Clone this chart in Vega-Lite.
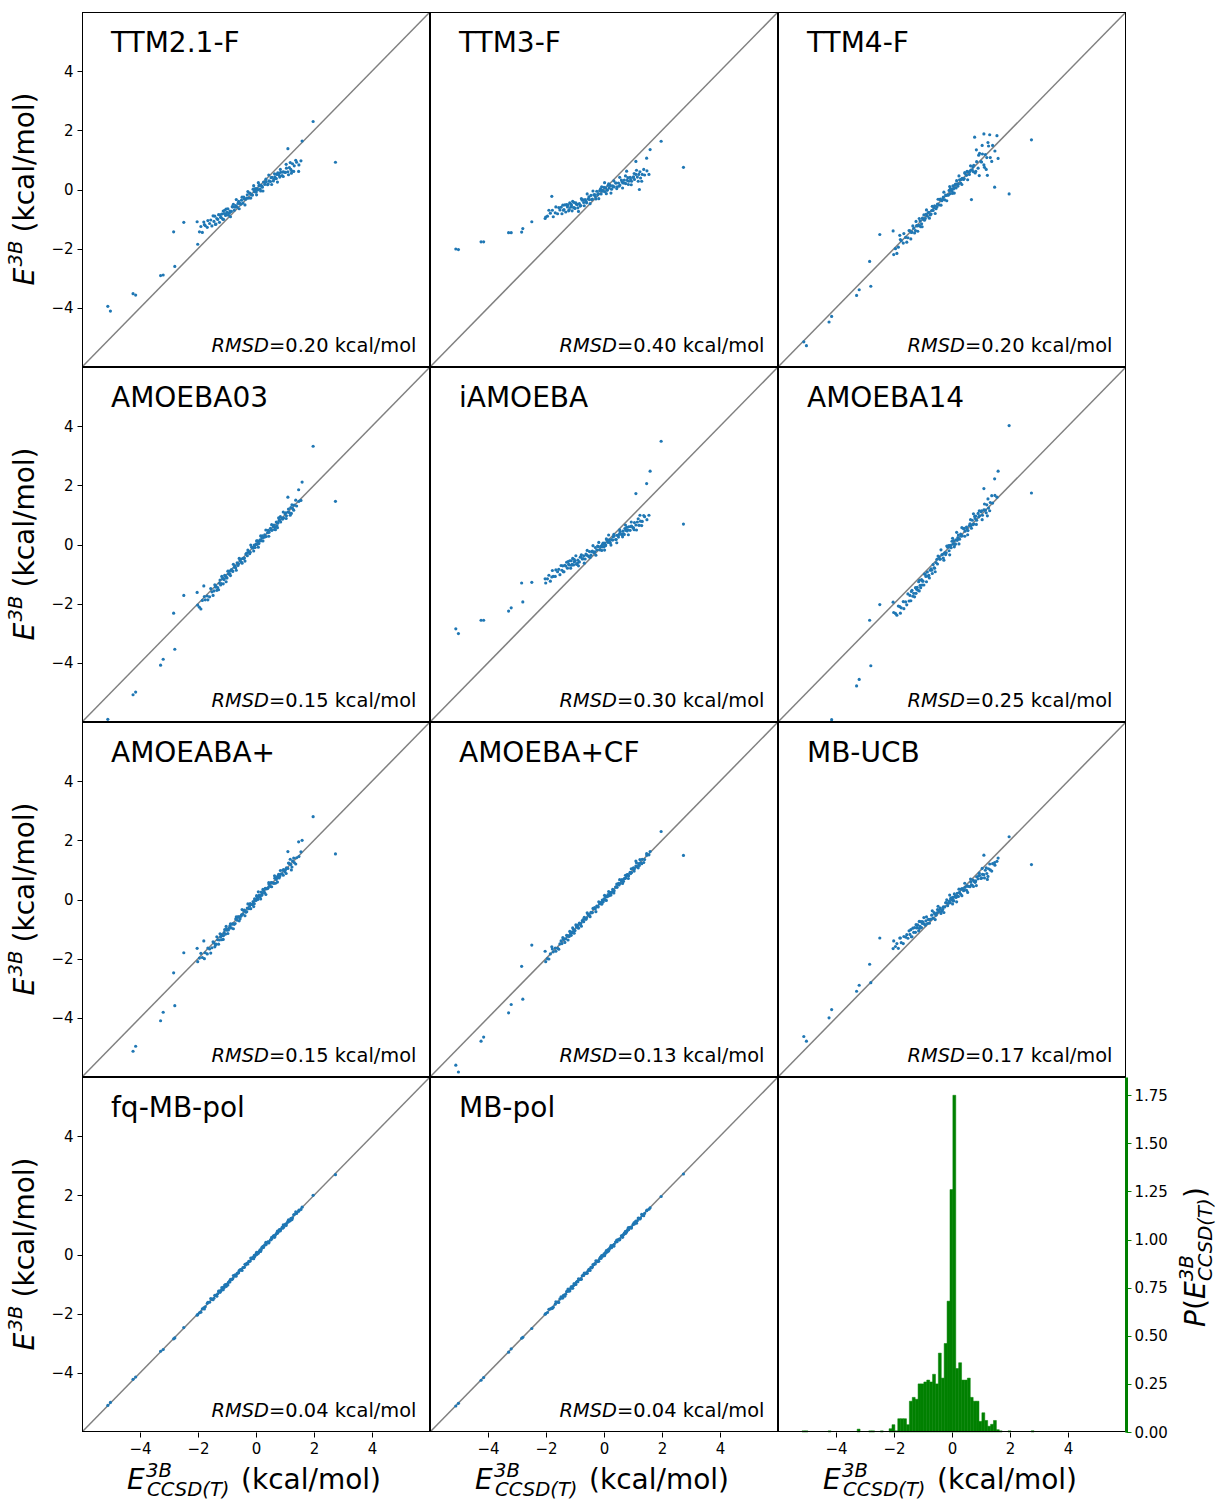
{
"$schema":"https://vega.github.io/schema/vega-lite/v6.json",
"padding":{"left":5,"top":12,"right":2,"bottom":2},
"background":"white",
"config":{"view":{"stroke":null},"concat":{"spacing":0},
"axis":{"grid":false,"domain":false,"tickSize":5,"tickColor":"#000","tickWidth":1,"labelFontSize":15,"labelColor":"#000","labelPadding":4,"labelFont":"DejaVu Sans"},
"text":{"font":"DejaVu Sans","color":"#000","baseline":"alphabetic"}},
"datasets":{
"pts":[
{"x":-1.95,"a":-1.43,"b":-0.9,"c":-2.0,"d":-2.12,"e":-1.16,"f":-2.33,"g":-1.98,"h":-2.0,"i":-1.59,"j":-1.97,"k":-1.96},
{"x":-1.85,"a":-1.45,"b":-0.8,"c":-1.95,"d":-1.89,"e":-1.24,"f":-2.08,"g":-1.96,"h":-1.84,"i":-1.65,"j":-1.84,"k":-1.84},
{"x":-1.75,"a":-1.22,"b":-0.92,"c":-1.73,"d":-1.87,"e":-1.08,"f":-2.14,"g":-1.8,"h":-1.77,"i":-1.46,"j":-1.77,"k":-1.78},
{"x":-1.68,"a":-1.28,"b":-0.79,"c":-1.81,"d":-1.74,"e":-1.08,"f":-1.93,"g":-1.84,"h":-1.64,"i":-1.49,"j":-1.65,"k":-1.68},
{"x":-1.6,"a":-1.15,"b":-0.82,"c":-1.62,"d":-1.77,"e":-0.92,"f":-1.94,"g":-1.67,"h":-1.65,"i":-1.27,"j":-1.61,"k":-1.61},
{"x":-1.52,"a":-1.23,"b":-0.69,"c":-1.63,"d":-1.6,"e":-1.02,"f":-1.67,"g":-1.63,"h":-1.5,"i":-1.31,"j":-1.51,"k":-1.5},
{"x":-1.45,"a":-1.08,"b":-0.82,"c":-1.4,"d":-1.57,"e":-0.87,"f":-1.72,"g":-1.47,"h":-1.49,"i":-1.18,"j":-1.48,"k":-1.47},
{"x":-1.38,"a":-1.17,"b":-0.68,"c":-1.44,"d":-1.41,"e":-0.92,"f":-1.55,"g":-1.51,"h":-1.33,"i":-1.26,"j":-1.38,"k":-1.37},
{"x":-1.32,"a":-1.01,"b":-0.76,"c":-1.31,"d":-1.46,"e":-0.73,"f":-1.65,"g":-1.36,"h":-1.33,"i":-1.11,"j":-1.33,"k":-1.34},
{"x":-1.26,"a":-1.11,"b":-0.59,"c":-1.39,"d":-1.31,"e":-0.8,"f":-1.46,"g":-1.37,"h":-1.23,"i":-1.11,"j":-1.24,"k":-1.23},
{"x":-1.2,"a":-0.95,"b":-0.68,"c":-1.23,"d":-1.32,"e":-0.69,"f":-1.45,"g":-1.19,"h":-1.25,"i":-0.95,"j":-1.22,"k":-1.21},
{"x":-1.15,"a":-1.0,"b":-0.6,"c":-1.22,"d":-1.15,"e":-0.8,"f":-1.26,"g":-1.22,"h":-1.14,"i":-1.06,"j":-1.14,"k":-1.14},
{"x":-1.1,"a":-0.81,"b":-0.72,"c":-1.06,"d":-1.18,"e":-0.67,"f":-1.38,"g":-1.12,"h":-1.12,"i":-0.91,"j":-1.12,"k":-1.13},
{"x":-1.05,"a":-0.88,"b":-0.61,"c":-1.16,"d":-1.07,"e":-0.69,"f":-1.19,"g":-1.17,"h":-1.01,"i":-0.95,"j":-1.02,"k":-1.05},
{"x":-1.0,"a":-0.77,"b":-0.64,"c":-1.0,"d":-1.13,"e":-0.55,"f":-1.24,"g":-1.04,"h":-1.05,"i":-0.76,"j":-1.01,"k":-1.01},
{"x":-0.95,"a":-0.87,"b":-0.5,"c":-1.04,"d":-1.0,"e":-0.67,"f":-1.0,"g":-1.03,"h":-0.93,"i":-0.83,"j":-0.94,"k":-0.93},
{"x":-0.9,"a":-0.73,"b":-0.62,"c":-0.84,"d":-0.99,"e":-0.53,"f":-1.08,"g":-0.89,"h":-0.94,"i":-0.72,"j":-0.93,"k":-0.92},
{"x":-0.85,"a":-0.74,"b":-0.48,"c":-0.9,"d":-0.85,"e":-0.59,"f":-0.93,"g":-0.96,"h":-0.8,"i":-0.81,"j":-0.85,"k":-0.84},
{"x":-0.8,"a":-0.59,"b":-0.54,"c":-0.77,"d":-0.91,"e":-0.41,"f":-1.04,"g":-0.82,"h":-0.81,"i":-0.67,"j":-0.81,"k":-0.82},
{"x":-0.75,"a":-0.7,"b":-0.36,"c":-0.86,"d":-0.77,"e":-0.49,"f":-0.87,"g":-0.84,"h":-0.72,"i":-0.68,"j":-0.73,"k":-0.72},
{"x":-0.7,"a":-0.54,"b":-0.44,"c":-0.71,"d":-0.79,"e":-0.38,"f":-0.87,"g":-0.66,"h":-0.75,"i":-0.53,"j":-0.72,"k":-0.71},
{"x":-0.65,"a":-0.59,"b":-0.34,"c":-0.71,"d":-0.62,"e":-0.49,"f":-0.68,"g":-0.7,"h":-0.64,"i":-0.63,"j":-0.64,"k":-0.64},
{"x":-0.6,"a":-0.4,"b":-0.45,"c":-0.55,"d":-0.65,"e":-0.36,"f":-0.8,"g":-0.59,"h":-0.62,"i":-0.48,"j":-0.62,"k":-0.63},
{"x":-0.55,"a":-0.47,"b":-0.32,"c":-0.65,"d":-0.54,"e":-0.38,"f":-0.61,"g":-0.65,"h":-0.51,"i":-0.53,"j":-0.52,"k":-0.55},
{"x":-0.5,"a":-0.36,"b":-0.34,"c":-0.49,"d":-0.6,"e":-0.24,"f":-0.66,"g":-0.52,"h":-0.55,"i":-0.34,"j":-0.51,"k":-0.51},
{"x":-0.45,"a":-0.46,"b":-0.2,"c":-0.52,"d":-0.47,"e":-0.36,"f":-0.42,"g":-0.5,"h":-0.43,"i":-0.4,"j":-0.44,"k":-0.43},
{"x":-0.4,"a":-0.32,"b":-0.32,"c":-0.32,"d":-0.46,"e":-0.22,"f":-0.49,"g":-0.36,"h":-0.44,"i":-0.29,"j":-0.43,"k":-0.42},
{"x":-0.35,"a":-0.33,"b":-0.18,"c":-0.38,"d":-0.32,"e":-0.28,"f":-0.35,"g":-0.43,"h":-0.3,"i":-0.39,"j":-0.35,"k":-0.34},
{"x":-0.3,"a":-0.18,"b":-0.24,"c":-0.26,"d":-0.38,"e":-0.1,"f":-0.46,"g":-0.29,"h":-0.31,"i":-0.25,"j":-0.31,"k":-0.32},
{"x":-0.25,"a":-0.29,"b":-0.06,"c":-0.35,"d":-0.24,"e":-0.18,"f":-0.28,"g":-0.31,"h":-0.22,"i":-0.25,"j":-0.23,"k":-0.22},
{"x":-0.2,"a":-0.13,"b":-0.14,"c":-0.2,"d":-0.26,"e":-0.07,"f":-0.28,"g":-0.14,"h":-0.25,"i":-0.1,"j":-0.22,"k":-0.21},
{"x":-0.15,"a":-0.18,"b":-0.04,"c":-0.19,"d":-0.09,"e":-0.18,"f":-0.09,"g":-0.17,"h":-0.14,"i":-0.21,"j":-0.14,"k":-0.14},
{"x":-0.1,"a":0.01,"b":-0.15,"c":-0.03,"d":-0.12,"e":-0.05,"f":-0.21,"g":-0.07,"h":-0.12,"i":-0.06,"j":-0.12,"k":-0.13},
{"x":-0.06,"a":-0.07,"b":-0.03,"c":-0.14,"d":-0.02,"e":-0.08,"f":-0.03,"g":-0.14,"h":-0.02,"i":-0.11,"j":-0.03,"k":-0.06},
{"x":-0.03,"a":0.03,"b":-0.06,"c":0.0,"d":-0.1,"e":0.05,"f":-0.11,"g":-0.02,"h":-0.08,"i":0.06,"j":-0.04,"k":-0.04},
{"x":0.0,"a":-0.09,"b":0.07,"c":-0.06,"d":0.01,"e":-0.08,"f":0.11,"g":-0.03,"h":0.02,"i":-0.02,"j":0.02,"k":0.02},
{"x":0.03,"a":0.03,"b":-0.07,"c":0.12,"d":0.0,"e":0.05,"f":0.01,"g":0.09,"h":-0.01,"i":0.07,"j":0.0,"k":0.01},
{"x":0.06,"a":0.0,"b":0.05,"c":0.04,"d":0.11,"e":-0.02,"f":0.12,"g":0.0,"h":0.11,"i":-0.04,"j":0.06,"k":0.07},
{"x":0.1,"a":0.13,"b":-0.02,"c":0.15,"d":0.03,"e":0.15,"f":0.0,"g":0.12,"h":0.09,"i":0.09,"j":0.09,"k":0.08},
{"x":0.14,"a":0.01,"b":0.14,"c":0.05,"d":0.16,"e":0.07,"f":0.16,"g":0.09,"h":0.17,"i":0.07,"j":0.16,"k":0.17},
{"x":0.18,"a":0.14,"b":0.05,"c":0.19,"d":0.13,"e":0.16,"f":0.14,"g":0.25,"h":0.13,"i":0.21,"j":0.16,"k":0.17},
{"x":0.22,"a":0.08,"b":0.13,"c":0.18,"d":0.29,"e":0.05,"f":0.32,"g":0.2,"h":0.23,"i":0.1,"j":0.23,"k":0.24},
{"x":0.26,"a":0.25,"b":0.01,"c":0.33,"d":0.24,"e":0.17,"f":0.18,"g":0.3,"h":0.24,"i":0.24,"j":0.24,"k":0.23},
{"x":0.3,"a":0.17,"b":0.12,"c":0.22,"d":0.33,"e":0.15,"f":0.35,"g":0.23,"h":0.34,"i":0.18,"j":0.33,"k":0.3},
{"x":0.35,"a":0.27,"b":0.09,"c":0.38,"d":0.27,"e":0.29,"f":0.3,"g":0.36,"h":0.3,"i":0.37,"j":0.34,"k":0.34},
{"x":0.4,"a":0.16,"b":0.22,"c":0.34,"d":0.4,"e":0.17,"f":0.53,"g":0.37,"h":0.42,"i":0.3,"j":0.42,"k":0.42},
{"x":0.45,"a":0.29,"b":0.09,"c":0.54,"d":0.41,"e":0.31,"f":0.45,"g":0.51,"h":0.41,"i":0.41,"j":0.42,"k":0.43},
{"x":0.5,"a":0.27,"b":0.22,"c":0.48,"d":0.55,"e":0.25,"f":0.59,"g":0.44,"h":0.55,"i":0.31,"j":0.5,"k":0.51},
{"x":0.55,"a":0.41,"b":0.15,"c":0.6,"d":0.48,"e":0.43,"f":0.47,"g":0.57,"h":0.54,"i":0.45,"j":0.54,"k":0.53},
{"x":0.6,"a":0.29,"b":0.32,"c":0.51,"d":0.61,"e":0.35,"f":0.64,"g":0.55,"h":0.63,"i":0.44,"j":0.62,"k":0.63},
{"x":0.65,"a":0.43,"b":0.23,"c":0.66,"d":0.59,"e":0.45,"f":0.63,"g":0.72,"h":0.6,"i":0.59,"j":0.63,"k":0.64},
{"x":0.7,"a":0.37,"b":0.32,"c":0.66,"d":0.76,"e":0.34,"f":0.82,"g":0.68,"h":0.71,"i":0.48,"j":0.71,"k":0.72},
{"x":0.75,"a":0.56,"b":0.2,"c":0.82,"d":0.72,"e":0.48,"f":0.69,"g":0.79,"h":0.73,"i":0.63,"j":0.73,"k":0.72},
{"x":0.8,"a":0.48,"b":0.31,"c":0.56,"d":0.82,"e":0.46,"f":0.88,"g":0.73,"h":0.84,"i":0.58,"j":0.83,"k":0.8},
{"x":0.85,"a":0.58,"b":0.28,"c":0.94,"d":0.76,"e":0.6,"f":0.82,"g":0.86,"h":0.8,"i":0.77,"j":0.84,"k":0.84},
{"x":0.9,"a":0.47,"b":0.41,"c":0.72,"d":0.89,"e":0.48,"f":1.05,"g":0.87,"h":0.92,"i":0.7,"j":0.92,"k":0.92},
{"x":0.95,"a":0.6,"b":0.28,"c":1.22,"d":0.9,"e":0.62,"f":0.97,"g":1.01,"h":0.91,"i":0.81,"j":0.92,"k":0.93},
{"x":1.0,"a":0.58,"b":0.41,"c":0.94,"d":1.04,"e":0.56,"f":1.11,"g":0.94,"h":1.05,"i":0.71,"j":1.0,"k":1.01},
{"x":1.05,"a":0.72,"b":0.34,"c":1.2,"d":0.97,"e":0.74,"f":0.99,"g":1.07,"h":1.04,"i":0.85,"j":1.04,"k":1.03},
{"x":1.1,"a":0.6,"b":0.51,"c":0.83,"d":1.1,"e":0.66,"f":1.17,"g":1.05,"h":1.13,"i":0.84,"j":1.12,"k":1.13},
{"x":1.15,"a":0.74,"b":0.42,"c":1.18,"d":1.08,"e":0.76,"f":1.16,"g":1.22,"h":1.1,"i":0.99,"j":1.13,"k":1.14},
{"x":1.2,"a":0.68,"b":0.51,"c":1.08,"d":1.25,"e":0.65,"f":1.34,"g":1.18,"h":1.21,"i":0.88,"j":1.21,"k":1.22},
{"x":1.26,"a":0.87,"b":0.39,"c":1.47,"d":1.22,"e":0.79,"f":1.23,"g":1.3,"h":1.24,"i":1.04,"j":1.24,"k":1.23},
{"x":1.32,"a":0.8,"b":0.51,"c":1.08,"d":1.33,"e":0.78,"f":1.42,"g":1.25,"h":1.36,"i":1.0,"j":1.35,"k":1.32},
{"x":1.4,"a":0.92,"b":0.49,"c":1.49,"d":1.3,"e":0.94,"f":1.4,"g":1.41,"h":1.35,"i":1.21,"j":1.39,"k":1.39},
{"x":1.48,"a":0.83,"b":0.63,"c":1.3,"d":1.46,"e":0.84,"f":1.66,"g":1.45,"h":1.5,"i":1.16,"j":1.5,"k":1.5},
{"x":1.55,"a":0.97,"b":0.51,"c":1.82,"d":1.49,"e":0.99,"f":1.6,"g":1.61,"h":1.51,"i":1.29,"j":1.52,"k":1.53},
{"x":-1.4,"a":-1.18,"b":-0.7,"c":-1.45,"d":-1.44,"e":-0.92,"f":-1.59,"g":-1.54,"h":-1.35,"i":-1.26,"j":-1.38,"k":-1.39},
{"x":-1.22,"a":-0.94,"b":-0.72,"c":-1.22,"d":-1.37,"e":-0.67,"f":-1.51,"g":-1.27,"h":-1.23,"i":-0.96,"j":-1.23,"k":-1.24},
{"x":-1.12,"a":-1.01,"b":-0.55,"c":-1.22,"d":-1.17,"e":-0.7,"f":-1.21,"g":-1.22,"h":-1.1,"i":-0.98,"j":-1.1,"k":-1.09},
{"x":-1.02,"a":-0.82,"b":-0.62,"c":-0.97,"d":-1.12,"e":-0.59,"f":-1.23,"g":-1.0,"h":-1.06,"i":-0.81,"j":-1.05,"k":-1.02},
{"x":-0.92,"a":-0.8,"b":-0.51,"c":-0.98,"d":-0.9,"e":-0.64,"f":-1.0,"g":-0.97,"h":-0.87,"i":-0.87,"j":-0.91,"k":-0.91},
{"x":-0.82,"a":-0.58,"b":-0.56,"c":-0.78,"d":-0.88,"e":-0.43,"f":-1.07,"g":-0.83,"h":-0.84,"i":-0.68,"j":-0.84,"k":-0.84},
{"x":-0.72,"a":-0.6,"b":-0.35,"c":-0.83,"d":-0.73,"e":-0.48,"f":-0.82,"g":-0.81,"h":-0.68,"i":-0.66,"j":-0.69,"k":-0.7},
{"x":-0.62,"a":-0.47,"b":-0.4,"c":-0.62,"d":-0.71,"e":-0.32,"f":-0.79,"g":-0.59,"h":-0.67,"i":-0.44,"j":-0.62,"k":-0.63},
{"x":-0.52,"a":-0.5,"b":-0.25,"c":-0.59,"d":-0.49,"e":-0.41,"f":-0.5,"g":-0.57,"h":-0.51,"i":-0.45,"j":-0.51,"k":-0.5},
{"x":-0.42,"a":-0.26,"b":-0.34,"c":-0.34,"d":-0.47,"e":-0.24,"f":-0.5,"g":-0.39,"h":-0.45,"i":-0.32,"j":-0.44,"k":-0.45},
{"x":-0.32,"a":-0.29,"b":-0.17,"c":-0.34,"d":-0.29,"e":-0.25,"f":-0.33,"g":-0.41,"h":-0.27,"i":-0.34,"j":-0.3,"k":-0.31},
{"x":-0.22,"a":-0.12,"b":-0.18,"c":-0.19,"d":-0.31,"e":-0.05,"f":-0.34,"g":-0.22,"h":-0.23,"i":-0.11,"j":-0.23,"k":-0.24},
{"x":-0.12,"a":-0.19,"b":0.02,"c":-0.19,"d":-0.11,"e":-0.08,"f":-0.04,"g":-0.17,"h":-0.1,"i":-0.13,"j":-0.1,"k":-0.09},
{"x":-0.05,"a":-0.02,"b":-0.04,"c":0.03,"d":-0.09,"e":0.01,"f":-0.09,"g":0.02,"h":-0.09,"i":0.02,"j":-0.08,"k":-0.05},
{"x":0.05,"a":-0.02,"b":0.06,"c":0.02,"d":0.12,"e":-0.04,"f":0.12,"g":0.04,"h":0.1,"i":-0.05,"j":0.06,"k":0.06},
{"x":0.12,"a":0.16,"b":-0.02,"c":0.18,"d":0.11,"e":0.15,"f":0.02,"g":0.15,"h":0.1,"i":0.12,"j":0.11,"k":0.1},
{"x":0.2,"a":0.11,"b":0.16,"c":0.11,"d":0.23,"e":0.09,"f":0.23,"g":0.14,"h":0.24,"i":0.11,"j":0.23,"k":0.22},
{"x":0.32,"a":0.24,"b":0.09,"c":0.34,"d":0.26,"e":0.26,"f":0.28,"g":0.38,"h":0.27,"i":0.35,"j":0.32,"k":0.31},
{"x":0.42,"a":0.19,"b":0.22,"c":0.37,"d":0.48,"e":0.17,"f":0.55,"g":0.4,"h":0.43,"i":0.33,"j":0.43,"k":0.44},
{"x":0.52,"a":0.4,"b":0.11,"c":0.61,"d":0.49,"e":0.34,"f":0.53,"g":0.57,"h":0.49,"i":0.46,"j":0.5,"k":0.49},
{"x":0.62,"a":0.35,"b":0.26,"c":0.61,"d":0.66,"e":0.33,"f":0.7,"g":0.55,"h":0.67,"i":0.43,"j":0.64,"k":0.63},
{"x":0.72,"a":0.51,"b":0.22,"c":0.76,"d":0.63,"e":0.54,"f":0.67,"g":0.74,"h":0.71,"i":0.66,"j":0.71,"k":0.7},
{"x":0.82,"a":0.42,"b":0.4,"c":0.61,"d":0.82,"e":0.5,"f":0.96,"g":0.78,"h":0.84,"i":0.63,"j":0.84,"k":0.85},
{"x":0.92,"a":0.59,"b":0.34,"c":1.16,"d":0.86,"e":0.61,"f":0.93,"g":0.99,"h":0.88,"i":0.8,"j":0.89,"k":0.92},
{"x":1.02,"a":0.58,"b":0.43,"c":0.93,"d":1.07,"e":0.56,"f":1.14,"g":1.01,"h":1.07,"i":0.73,"j":1.03,"k":1.03},
{"x":-1.9,"a":-1.25,"b":-0.7,"c":-2.16,"d":-2.18,"e":-1.04,"f":-2.39,"g":-1.82,"h":-2.01,"i":-1.49,"j":-1.95,"k":-1.85},
{"x":-1.78,"a":-1.19,"b":-0.7,"c":-1.69,"d":-1.76,"e":-0.88,"f":-2.32,"g":-2.0,"h":-1.67,"i":-1.3,"j":-1.84,"k":-1.82},
{"x":-1.66,"a":-1.05,"b":-0.59,"c":-1.49,"d":-1.87,"e":-0.86,"f":-2.17,"g":-1.64,"h":-1.75,"i":-1.25,"j":-1.62,"k":-1.6},
{"x":-1.56,"a":-1.03,"b":-0.61,"c":-1.78,"d":-1.49,"e":-0.84,"f":-2.04,"g":-1.81,"h":-1.68,"i":-1.19,"j":-1.49,"k":-1.62},
{"x":-1.48,"a":-0.89,"b":-0.6,"c":-1.39,"d":-1.72,"e":-0.71,"f":-1.91,"g":-1.43,"h":-1.4,"i":-1.06,"j":-1.53,"k":-1.43},
{"x":-1.42,"a":-0.9,"b":-0.53,"c":-1.67,"d":-1.36,"e":-0.72,"f":-1.9,"g":-1.6,"h":-1.29,"i":-1.02,"j":-1.38,"k":-1.47},
{"x":-1.35,"a":-0.98,"b":-0.52,"c":-1.23,"d":-1.55,"e":-0.7,"f":-1.75,"g":-1.26,"h":-1.45,"i":-0.97,"j":-1.41,"k":-1.41},
{"x":-1.29,"a":-0.85,"b":-0.51,"c":-1.47,"d":-1.53,"e":-0.6,"f":-1.77,"g":-1.51,"h":-1.21,"i":-0.95,"j":-1.24,"k":-1.25},
{"x":-1.24,"a":-0.86,"b":-0.52,"c":-1.08,"d":-1.2,"e":-0.58,"f":-1.65,"g":-1.16,"h":-1.37,"i":-0.85,"j":-1.28,"k":-1.17},
{"x":-1.18,"a":-0.83,"b":-0.45,"c":-1.41,"d":-1.08,"e":-0.55,"f":-1.54,"g":-1.36,"h":-1.08,"i":-0.86,"j":-1.12,"k":-1.23},
{"x":-1.13,"a":-0.73,"b":-0.5,"c":-0.98,"d":-1.33,"e":-0.55,"f":-1.57,"g":-1.35,"h":-1.21,"i":-0.74,"j":-1.19,"k":-1.09},
{"x":-1.08,"a":-0.7,"b":-0.4,"c":-1.26,"d":-1.04,"e":-0.47,"f":-1.46,"g":-1.02,"h":-0.96,"i":-0.75,"j":-1.03,"k":-1.14},
{"x":-1.03,"a":-0.66,"b":-0.44,"c":-1.26,"d":-1.26,"e":-0.5,"f":-1.37,"g":-0.91,"h":-1.14,"i":-0.75,"j":-1.08,"k":-0.98},
{"x":-0.97,"a":-0.65,"b":-0.45,"c":-0.86,"d":-0.9,"e":-0.38,"f":-1.37,"g":-1.15,"h":-0.86,"i":-0.61,"j":-1.03,"k":-1.01},
{"x":-0.88,"a":-0.92,"b":-0.74,"c":-0.69,"d":-1.05,"e":-0.72,"f":-1.26,"g":-0.82,"h":-0.97,"i":-0.59,"j":-0.84,"k":-0.82},
{"x":-0.78,"a":-0.5,"b":-0.31,"c":-0.97,"d":-0.67,"e":-0.35,"f":-1.13,"g":-0.99,"h":-0.9,"i":-0.8,"j":-0.71,"k":-0.84},
{"x":-0.68,"a":-0.34,"b":-0.55,"c":-0.57,"d":-0.87,"e":-0.63,"f":-0.98,"g":-0.59,"h":-0.6,"i":-0.38,"j":-0.73,"k":-0.63},
{"x":-0.58,"a":-0.65,"b":-0.15,"c":-0.81,"d":-0.47,"e":-0.2,"f":-0.92,"g":-0.72,"h":-0.45,"i":-0.68,"j":-0.54,"k":-0.63},
{"x":-0.48,"a":-0.26,"b":-0.48,"c":-0.33,"d":-0.63,"e":-0.44,"f":-0.39,"g":-0.34,"h":-0.58,"i":-0.23,"j":-0.54,"k":-0.54},
{"x":-0.38,"a":-0.52,"b":-0.05,"c":-0.53,"d":-0.56,"e":-0.04,"f":-0.18,"g":-0.55,"h":-0.3,"i":-0.47,"j":-0.33,"k":-0.34},
{"x":-0.28,"a":-0.07,"b":-0.32,"c":-0.09,"d":-0.19,"e":-0.36,"f":-0.53,"g":-0.15,"h":-0.41,"i":-0.44,"j":-0.32,"k":-0.21},
{"x":-0.18,"a":-0.29,"b":-0.31,"c":-0.38,"d":-0.02,"e":0.07,"f":-0.05,"g":-0.31,"h":-0.08,"i":-0.01,"j":-0.12,"k":-0.23},
{"x":-0.08,"a":0.13,"b":0.09,"c":0.1,"d":-0.22,"e":-0.2,"f":-0.35,"g":-0.24,"h":-0.16,"i":0.15,"j":-0.14,"k":-0.04},
{"x":0.02,"a":-0.18,"b":0.23,"c":-0.13,"d":0.12,"e":-0.19,"f":0.21,"g":0.13,"h":0.14,"i":-0.15,"j":0.07,"k":-0.04},
{"x":0.08,"a":0.23,"b":-0.14,"c":-0.12,"d":-0.09,"e":0.19,"f":-0.08,"g":0.26,"h":-0.03,"i":0.19,"j":0.04,"k":0.13},
{"x":0.16,"a":-0.05,"b":0.19,"c":0.3,"d":0.29,"e":0.32,"f":0.41,"g":0.02,"h":0.27,"i":-0.08,"j":0.1,"k":0.12},
{"x":0.24,"a":-0.05,"b":-0.12,"c":0.46,"d":0.12,"e":-0.02,"f":0.02,"g":0.34,"h":0.15,"i":0.35,"j":0.28,"k":0.3},
{"x":0.34,"a":0.35,"b":0.29,"c":0.17,"d":0.49,"e":0.34,"f":0.57,"g":0.17,"h":0.22,"i":0.13,"j":0.41,"k":0.28},
{"x":0.44,"a":0.49,"b":0.03,"c":0.57,"d":0.28,"e":0.06,"f":0.28,"g":0.57,"h":0.52,"i":0.55,"j":0.39,"k":0.49},
{"x":0.54,"a":0.17,"b":0.41,"c":0.33,"d":0.67,"e":0.5,"f":0.33,"g":0.43,"h":0.67,"i":0.24,"j":0.58,"k":0.5},
{"x":0.64,"a":0.53,"b":0.05,"c":0.8,"d":0.51,"e":0.26,"f":0.84,"g":0.8,"h":0.54,"i":0.69,"j":0.58,"k":0.58},
{"x":0.74,"a":0.25,"b":0.46,"c":0.6,"d":0.57,"e":0.66,"f":1.04,"g":0.59,"h":0.82,"i":0.44,"j":0.79,"k":0.78},
{"x":0.84,"a":0.68,"b":0.17,"c":1.34,"d":0.94,"e":0.33,"f":0.68,"g":0.98,"h":0.71,"i":0.47,"j":0.8,"k":0.91},
{"x":0.94,"a":0.44,"b":0.16,"c":0.47,"d":1.1,"e":0.76,"f":1.14,"g":0.82,"h":1.04,"i":0.89,"j":1.0,"k":0.89},
{"x":1.04,"a":0.85,"b":0.54,"c":1.49,"d":0.88,"e":0.5,"f":0.84,"g":0.88,"h":0.96,"i":1.05,"j":0.98,"k":1.08},
{"x":1.12,"a":0.5,"b":0.65,"c":0.75,"d":1.2,"e":0.49,"f":1.37,"g":1.23,"h":1.24,"i":0.73,"j":1.17,"k":1.06},
{"x":1.18,"a":0.91,"b":0.28,"c":0.68,"d":0.99,"e":0.87,"f":1.07,"g":1.36,"h":1.07,"i":1.07,"j":1.14,"k":1.23},
{"x":1.24,"a":0.62,"b":0.6,"c":1.59,"d":1.34,"e":0.99,"f":1.54,"g":1.1,"h":1.35,"i":0.78,"j":1.18,"k":1.2},
{"x":1.3,"a":0.61,"b":0.28,"c":1.85,"d":1.16,"e":0.64,"f":1.14,"g":1.4,"h":1.21,"i":1.2,"j":1.34,"k":1.36},
{"x":1.37,"a":0.99,"b":0.68,"c":0.95,"d":1.5,"e":0.98,"f":1.65,"g":1.2,"h":1.25,"i":0.96,"j":1.44,"k":1.31},
{"x":-5.11,"a":-3.95,"b":-2.01,"c":-5.15,"d":-5.91,"e":-2.85,"f":-6.5,"g":-6.3,"h":-5.6,"i":-4.63,"j":-5.1,"k":-5.12},
{"x":-5.02,"a":-4.11,"b":-2.03,"c":-5.28,"d":-6.2,"e":-3.01,"f":-6.6,"g":-6.4,"h":-5.83,"i":-4.79,"j":-5.0,"k":-5.03},
{"x":-4.24,"a":-3.52,"b":-1.77,"c":-4.48,"d":-5.08,"e":-2.56,"f":-6.1,"g":-5.13,"h":-4.79,"i":-4.0,"j":-4.22,"k":-4.25},
{"x":-4.15,"a":-3.57,"b":-1.77,"c":-4.29,"d":-4.99,"e":-2.56,"f":-5.92,"g":-4.96,"h":-4.65,"i":-3.72,"j":-4.14,"k":-4.16},
{"x":-3.29,"a":-2.91,"b":-1.46,"c":-3.58,"d":-4.08,"e":-2.25,"f":-4.78,"g":-4.1,"h":-3.83,"i":-3.1,"j":-3.27,"k":-3.3},
{"x":-3.2,"a":-2.89,"b":-1.46,"c":-3.39,"d":-3.88,"e":-2.14,"f":-4.56,"g":-3.81,"h":-3.55,"i":-2.9,"j":-3.21,"k":-3.19},
{"x":-2.8,"a":-2.6,"b":-1.32,"c":-3.27,"d":-3.54,"e":-1.94,"f":-4.1,"g":-3.59,"h":-3.37,"i":-2.81,"j":-2.82,"k":-2.8},
{"x":-2.84,"a":-1.43,"b":-1.44,"c":-2.43,"d":-2.32,"e":-1.3,"f":-2.56,"g":-2.48,"h":-2.26,"i":-2.19,"j":-2.85,"k":-2.83},
{"x":-2.49,"a":-1.11,"b":-1.09,"c":-1.52,"d":-1.72,"e":-1.28,"f":-2.03,"g":-1.8,"h":-1.54,"i":-1.3,"j":-2.47,"k":-2.5},
{"x":-2.03,"a":-1.09,"b":-0.98,"c":-1.4,"d":-1.62,"e":-1.16,"f":-1.95,"g":-1.65,"h":-1.75,"i":-1.66,"j":-2.05,"k":-2.02},
{"x":-2.01,"a":-1.85,"b":-0.93,"c":-2.2,"d":-2.05,"e":-1.3,"f":-2.3,"g":-2.1,"h":-2.1,"i":-1.4,"j":-2.03,"k":-2.0},
{"x":1.97,"a":2.3,"b":1.63,"c":-0.15,"d":3.32,"e":3.49,"f":4.02,"g":2.8,"h":2.3,"i":2.12,"j":2.0,"k":1.96},
{"x":2.74,"a":0.92,"b":0.75,"c":1.68,"d":1.46,"e":0.69,"f":1.74,"g":1.54,"h":1.49,"i":1.18,"j":2.7,"k":2.72},
{"x":1.59,"a":1.64,"b":1.35,"c":1.05,"d":2.11,"e":2.48,"f":2.48,"g":2.0,"h":1.62,"i":1.4,"j":1.6,"k":1.58},
{"x":1.47,"a":0.61,"b":1.06,"c":0.08,"d":1.85,"e":2.06,"f":2.22,"g":1.95,"h":1.55,"i":1.25,"j":1.46,"k":1.48},
{"x":1.1,"a":1.38,"b":0.95,"c":1.88,"d":1.6,"e":1.72,"f":1.89,"g":1.62,"h":1.3,"i":1.5,"j":1.09,"k":1.11},
{"x":0.78,"a":0.55,"b":0.62,"c":1.77,"d":0.9,"e":0.58,"f":0.95,"g":0.85,"h":0.8,"i":0.6,"j":0.78,"k":0.77},
{"x":0.67,"a":0.38,"b":0.22,"c":-0.34,"d":0.5,"e":0.36,"f":0.55,"g":0.55,"h":0.62,"i":0.5,"j":0.66,"k":0.67},
{"x":1.22,"a":0.55,"b":0.0,"c":0.48,"d":1.05,"e":0.65,"f":0.97,"g":1.0,"h":1.15,"i":0.68,"j":1.22,"k":1.21},
{"x":-1.8,"a":-1.1,"b":-0.23,"c":-1.55,"d":-1.4,"e":-1.1,"f":-2.1,"g":-1.4,"h":-1.6,"i":-1.3,"j":-1.8,"k":-1.81}
],
"hist":[
{"x0":-5.17,"x1":-5.07,"p":0.006},{"x0":-5.07,"x1":-4.97,"p":0.006},{"x0":-4.27,"x1":-4.17,"p":0.006},{"x0":-3.27,"x1":-3.17,"p":0.015},
{"x0":-2.87,"x1":-2.77,"p":0.006},{"x0":-2.77,"x1":-2.67,"p":0.006},{"x0":-2.47,"x1":-2.37,"p":0.006},{"x0":-2.17,"x1":-2.07,"p":0.017},
{"x0":-2.07,"x1":-1.97,"p":0.038},{"x0":-1.97,"x1":-1.87,"p":0.006},{"x0":-1.87,"x1":-1.77,"p":0.069},{"x0":-1.77,"x1":-1.67,"p":0.069},
{"x0":-1.67,"x1":-1.57,"p":0.069},{"x0":-1.57,"x1":-1.47,"p":0.038},{"x0":-1.47,"x1":-1.37,"p":0.16},{"x0":-1.37,"x1":-1.27,"p":0.18},
{"x0":-1.27,"x1":-1.17,"p":0.17},{"x0":-1.17,"x1":-1.07,"p":0.25},{"x0":-1.07,"x1":-0.97,"p":0.25},{"x0":-0.97,"x1":-0.87,"p":0.26},
{"x0":-0.87,"x1":-0.77,"p":0.27},{"x0":-0.77,"x1":-0.67,"p":0.26},{"x0":-0.67,"x1":-0.57,"p":0.3},{"x0":-0.57,"x1":-0.47,"p":0.25},
{"x0":-0.47,"x1":-0.37,"p":0.41},{"x0":-0.37,"x1":-0.27,"p":0.28},{"x0":-0.27,"x1":-0.17,"p":0.46},{"x0":-0.17,"x1":-0.07,"p":0.68},
{"x0":-0.07,"x1":0.03,"p":1.26},{"x0":0.03,"x1":0.13,"p":1.75},{"x0":0.13,"x1":0.23,"p":0.33},{"x0":0.23,"x1":0.33,"p":0.36},
{"x0":0.33,"x1":0.43,"p":0.27},{"x0":0.43,"x1":0.53,"p":0.27},{"x0":0.53,"x1":0.63,"p":0.28},{"x0":0.63,"x1":0.73,"p":0.18},
{"x0":0.73,"x1":0.83,"p":0.16},{"x0":0.83,"x1":0.93,"p":0.16},{"x0":0.93,"x1":1.03,"p":0.055},{"x0":1.03,"x1":1.13,"p":0.1},
{"x0":1.13,"x1":1.23,"p":0.06},{"x0":1.23,"x1":1.33,"p":0.03},{"x0":1.33,"x1":1.43,"p":0.04},{"x0":1.43,"x1":1.53,"p":0.06},
{"x0":1.53,"x1":1.63,"p":0.012},{"x0":1.63,"x1":1.73,"p":0.006},{"x0":1.93,"x1":2.03,"p":0.006},{"x0":2.73,"x1":2.83,"p":0.006}
]},
"spacing":0,
"vconcat":[
{"spacing":0,"hconcat":[
{"width":348,"height":355,"layer":[
{"data":{"values":[{}]},"mark":{"type":"rule","color":"#808080","strokeWidth":1.5,"clip":true},"encoding":{"x":{"datum":-6,"type":"quantitative","scale":{"domain":[-6,6],"nice":false,"zero":false},"axis":null},"y":{"datum":-6,"type":"quantitative","scale":{"domain":[-6,6],"nice":false,"zero":false},"axis":{"values":[-4,-2,0,2,4],"title":null}},"x2":{"datum":6},"y2":{"datum":6}}},
{"data":{"name":"pts"},"mark":{"type":"circle","size":10,"color":"#1f77b4","opacity":1,"clip":true},"encoding":{"x":{"field":"x","type":"quantitative","scale":{"domain":[-6,6],"nice":false,"zero":false},"axis":null},"y":{"field":"a","type":"quantitative","scale":{"domain":[-6,6],"nice":false,"zero":false},"axis":{"values":[-4,-2,0,2,4],"title":null}}}},
{"data":{"values":[{}]},"mark":{"type":"text","text":"TTM2.1-F","align":"left","fontSize":28},"encoding":{"x":{"datum":-5,"type":"quantitative","scale":{"domain":[-6,6],"nice":false,"zero":false},"axis":null},"y":{"datum":4.65,"type":"quantitative","scale":{"domain":[-6,6],"nice":false,"zero":false},"axis":{"values":[-4,-2,0,2,4],"title":null}}}},
{"data":{"values":[{}]},"mark":{"type":"text","text":"RMSD","align":"right","fontSize":19.4,"fontStyle":"italic"},"encoding":{"x":{"datum":0.45,"type":"quantitative","scale":{"domain":[-6,6],"nice":false,"zero":false},"axis":null},"y":{"datum":-5.49,"type":"quantitative","scale":{"domain":[-6,6],"nice":false,"zero":false},"axis":{"values":[-4,-2,0,2,4],"title":null}}}},
{"data":{"values":[{}]},"mark":{"type":"text","text":"=0.20 kcal/mol","align":"left","fontSize":19.4},"encoding":{"x":{"datum":0.45,"type":"quantitative","scale":{"domain":[-6,6],"nice":false,"zero":false},"axis":null},"y":{"datum":-5.49,"type":"quantitative","scale":{"domain":[-6,6],"nice":false,"zero":false},"axis":{"values":[-4,-2,0,2,4],"title":null}}}},
{"data":{"values":[{}]},"mark":{"type":"text","text":"E","align":"left","fontSize":28,"fontStyle":"italic","angle":270,"dx":-96},"encoding":{"x":{"datum":-7.66,"type":"quantitative","scale":{"domain":[-6,6],"nice":false,"zero":false},"axis":null},"y":{"datum":0,"type":"quantitative","scale":{"domain":[-6,6],"nice":false,"zero":false},"axis":{"values":[-4,-2,0,2,4],"title":null}}}},
{"data":{"values":[{}]},"mark":{"type":"text","text":"3B","align":"left","fontSize":19.6,"fontStyle":"italic","angle":270,"dx":-77,"dy":-12},"encoding":{"x":{"datum":-7.66,"type":"quantitative","scale":{"domain":[-6,6],"nice":false,"zero":false},"axis":null},"y":{"datum":0,"type":"quantitative","scale":{"domain":[-6,6],"nice":false,"zero":false},"axis":{"values":[-4,-2,0,2,4],"title":null}}}},
{"data":{"values":[{}]},"mark":{"type":"text","text":"(kcal/mol)","align":"left","fontSize":28,"angle":270,"dx":-43},"encoding":{"x":{"datum":-7.66,"type":"quantitative","scale":{"domain":[-6,6],"nice":false,"zero":false},"axis":null},"y":{"datum":0,"type":"quantitative","scale":{"domain":[-6,6],"nice":false,"zero":false},"axis":{"values":[-4,-2,0,2,4],"title":null}}}},
{"data":{"values":[{}]},"mark":{"type":"rect","fillOpacity":0,"stroke":"#000","strokeWidth":2,"clip":true},"encoding":{"x":{"datum":-6,"type":"quantitative","scale":{"domain":[-6,6],"nice":false,"zero":false},"axis":null},"x2":{"datum":6},"y":{"datum":-6,"type":"quantitative","scale":{"domain":[-6,6],"nice":false,"zero":false},"axis":{"values":[-4,-2,0,2,4],"title":null}},"y2":{"datum":6}}}
]},
{"width":348,"height":355,"layer":[
{"data":{"values":[{}]},"mark":{"type":"rule","color":"#808080","strokeWidth":1.5,"clip":true},"encoding":{"x":{"datum":-6,"type":"quantitative","scale":{"domain":[-6,6],"nice":false,"zero":false},"axis":null},"y":{"datum":-6,"type":"quantitative","scale":{"domain":[-6,6],"nice":false,"zero":false},"axis":null},"x2":{"datum":6},"y2":{"datum":6}}},
{"data":{"name":"pts"},"mark":{"type":"circle","size":10,"color":"#1f77b4","opacity":1,"clip":true},"encoding":{"x":{"field":"x","type":"quantitative","scale":{"domain":[-6,6],"nice":false,"zero":false},"axis":null},"y":{"field":"b","type":"quantitative","scale":{"domain":[-6,6],"nice":false,"zero":false},"axis":null}}},
{"data":{"values":[{}]},"mark":{"type":"text","text":"TTM3-F","align":"left","fontSize":28},"encoding":{"x":{"datum":-5,"type":"quantitative","scale":{"domain":[-6,6],"nice":false,"zero":false},"axis":null},"y":{"datum":4.65,"type":"quantitative","scale":{"domain":[-6,6],"nice":false,"zero":false},"axis":null}}},
{"data":{"values":[{}]},"mark":{"type":"text","text":"RMSD","align":"right","fontSize":19.4,"fontStyle":"italic"},"encoding":{"x":{"datum":0.45,"type":"quantitative","scale":{"domain":[-6,6],"nice":false,"zero":false},"axis":null},"y":{"datum":-5.49,"type":"quantitative","scale":{"domain":[-6,6],"nice":false,"zero":false},"axis":null}}},
{"data":{"values":[{}]},"mark":{"type":"text","text":"=0.40 kcal/mol","align":"left","fontSize":19.4},"encoding":{"x":{"datum":0.45,"type":"quantitative","scale":{"domain":[-6,6],"nice":false,"zero":false},"axis":null},"y":{"datum":-5.49,"type":"quantitative","scale":{"domain":[-6,6],"nice":false,"zero":false},"axis":null}}},
{"data":{"values":[{}]},"mark":{"type":"rect","fillOpacity":0,"stroke":"#000","strokeWidth":2,"clip":true},"encoding":{"x":{"datum":-6,"type":"quantitative","scale":{"domain":[-6,6],"nice":false,"zero":false},"axis":null},"x2":{"datum":6},"y":{"datum":-6,"type":"quantitative","scale":{"domain":[-6,6],"nice":false,"zero":false},"axis":null},"y2":{"datum":6}}}
]},
{"width":348,"height":355,"layer":[
{"data":{"values":[{}]},"mark":{"type":"rule","color":"#808080","strokeWidth":1.5,"clip":true},"encoding":{"x":{"datum":-6,"type":"quantitative","scale":{"domain":[-6,6],"nice":false,"zero":false},"axis":null},"y":{"datum":-6,"type":"quantitative","scale":{"domain":[-6,6],"nice":false,"zero":false},"axis":null},"x2":{"datum":6},"y2":{"datum":6}}},
{"data":{"name":"pts"},"mark":{"type":"circle","size":10,"color":"#1f77b4","opacity":1,"clip":true},"encoding":{"x":{"field":"x","type":"quantitative","scale":{"domain":[-6,6],"nice":false,"zero":false},"axis":null},"y":{"field":"c","type":"quantitative","scale":{"domain":[-6,6],"nice":false,"zero":false},"axis":null}}},
{"data":{"values":[{}]},"mark":{"type":"text","text":"TTM4-F","align":"left","fontSize":28},"encoding":{"x":{"datum":-5,"type":"quantitative","scale":{"domain":[-6,6],"nice":false,"zero":false},"axis":null},"y":{"datum":4.65,"type":"quantitative","scale":{"domain":[-6,6],"nice":false,"zero":false},"axis":null}}},
{"data":{"values":[{}]},"mark":{"type":"text","text":"RMSD","align":"right","fontSize":19.4,"fontStyle":"italic"},"encoding":{"x":{"datum":0.45,"type":"quantitative","scale":{"domain":[-6,6],"nice":false,"zero":false},"axis":null},"y":{"datum":-5.49,"type":"quantitative","scale":{"domain":[-6,6],"nice":false,"zero":false},"axis":null}}},
{"data":{"values":[{}]},"mark":{"type":"text","text":"=0.20 kcal/mol","align":"left","fontSize":19.4},"encoding":{"x":{"datum":0.45,"type":"quantitative","scale":{"domain":[-6,6],"nice":false,"zero":false},"axis":null},"y":{"datum":-5.49,"type":"quantitative","scale":{"domain":[-6,6],"nice":false,"zero":false},"axis":null}}},
{"data":{"values":[{}]},"mark":{"type":"rect","fillOpacity":0,"stroke":"#000","strokeWidth":2,"clip":true},"encoding":{"x":{"datum":-6,"type":"quantitative","scale":{"domain":[-6,6],"nice":false,"zero":false},"axis":null},"x2":{"datum":6},"y":{"datum":-6,"type":"quantitative","scale":{"domain":[-6,6],"nice":false,"zero":false},"axis":null},"y2":{"datum":6}}}
]}
]},
{"spacing":0,"hconcat":[
{"width":348,"height":355,"layer":[
{"data":{"values":[{}]},"mark":{"type":"rule","color":"#808080","strokeWidth":1.5,"clip":true},"encoding":{"x":{"datum":-6,"type":"quantitative","scale":{"domain":[-6,6],"nice":false,"zero":false},"axis":null},"y":{"datum":-6,"type":"quantitative","scale":{"domain":[-6,6],"nice":false,"zero":false},"axis":{"values":[-4,-2,0,2,4],"title":null}},"x2":{"datum":6},"y2":{"datum":6}}},
{"data":{"name":"pts"},"mark":{"type":"circle","size":10,"color":"#1f77b4","opacity":1,"clip":true},"encoding":{"x":{"field":"x","type":"quantitative","scale":{"domain":[-6,6],"nice":false,"zero":false},"axis":null},"y":{"field":"d","type":"quantitative","scale":{"domain":[-6,6],"nice":false,"zero":false},"axis":{"values":[-4,-2,0,2,4],"title":null}}}},
{"data":{"values":[{}]},"mark":{"type":"text","text":"AMOEBA03","align":"left","fontSize":28},"encoding":{"x":{"datum":-5,"type":"quantitative","scale":{"domain":[-6,6],"nice":false,"zero":false},"axis":null},"y":{"datum":4.65,"type":"quantitative","scale":{"domain":[-6,6],"nice":false,"zero":false},"axis":{"values":[-4,-2,0,2,4],"title":null}}}},
{"data":{"values":[{}]},"mark":{"type":"text","text":"RMSD","align":"right","fontSize":19.4,"fontStyle":"italic"},"encoding":{"x":{"datum":0.45,"type":"quantitative","scale":{"domain":[-6,6],"nice":false,"zero":false},"axis":null},"y":{"datum":-5.49,"type":"quantitative","scale":{"domain":[-6,6],"nice":false,"zero":false},"axis":{"values":[-4,-2,0,2,4],"title":null}}}},
{"data":{"values":[{}]},"mark":{"type":"text","text":"=0.15 kcal/mol","align":"left","fontSize":19.4},"encoding":{"x":{"datum":0.45,"type":"quantitative","scale":{"domain":[-6,6],"nice":false,"zero":false},"axis":null},"y":{"datum":-5.49,"type":"quantitative","scale":{"domain":[-6,6],"nice":false,"zero":false},"axis":{"values":[-4,-2,0,2,4],"title":null}}}},
{"data":{"values":[{}]},"mark":{"type":"text","text":"E","align":"left","fontSize":28,"fontStyle":"italic","angle":270,"dx":-96},"encoding":{"x":{"datum":-7.66,"type":"quantitative","scale":{"domain":[-6,6],"nice":false,"zero":false},"axis":null},"y":{"datum":0,"type":"quantitative","scale":{"domain":[-6,6],"nice":false,"zero":false},"axis":{"values":[-4,-2,0,2,4],"title":null}}}},
{"data":{"values":[{}]},"mark":{"type":"text","text":"3B","align":"left","fontSize":19.6,"fontStyle":"italic","angle":270,"dx":-77,"dy":-12},"encoding":{"x":{"datum":-7.66,"type":"quantitative","scale":{"domain":[-6,6],"nice":false,"zero":false},"axis":null},"y":{"datum":0,"type":"quantitative","scale":{"domain":[-6,6],"nice":false,"zero":false},"axis":{"values":[-4,-2,0,2,4],"title":null}}}},
{"data":{"values":[{}]},"mark":{"type":"text","text":"(kcal/mol)","align":"left","fontSize":28,"angle":270,"dx":-43},"encoding":{"x":{"datum":-7.66,"type":"quantitative","scale":{"domain":[-6,6],"nice":false,"zero":false},"axis":null},"y":{"datum":0,"type":"quantitative","scale":{"domain":[-6,6],"nice":false,"zero":false},"axis":{"values":[-4,-2,0,2,4],"title":null}}}},
{"data":{"values":[{}]},"mark":{"type":"rect","fillOpacity":0,"stroke":"#000","strokeWidth":2,"clip":true},"encoding":{"x":{"datum":-6,"type":"quantitative","scale":{"domain":[-6,6],"nice":false,"zero":false},"axis":null},"x2":{"datum":6},"y":{"datum":-6,"type":"quantitative","scale":{"domain":[-6,6],"nice":false,"zero":false},"axis":{"values":[-4,-2,0,2,4],"title":null}},"y2":{"datum":6}}}
]},
{"width":348,"height":355,"layer":[
{"data":{"values":[{}]},"mark":{"type":"rule","color":"#808080","strokeWidth":1.5,"clip":true},"encoding":{"x":{"datum":-6,"type":"quantitative","scale":{"domain":[-6,6],"nice":false,"zero":false},"axis":null},"y":{"datum":-6,"type":"quantitative","scale":{"domain":[-6,6],"nice":false,"zero":false},"axis":null},"x2":{"datum":6},"y2":{"datum":6}}},
{"data":{"name":"pts"},"mark":{"type":"circle","size":10,"color":"#1f77b4","opacity":1,"clip":true},"encoding":{"x":{"field":"x","type":"quantitative","scale":{"domain":[-6,6],"nice":false,"zero":false},"axis":null},"y":{"field":"e","type":"quantitative","scale":{"domain":[-6,6],"nice":false,"zero":false},"axis":null}}},
{"data":{"values":[{}]},"mark":{"type":"text","text":"iAMOEBA","align":"left","fontSize":28},"encoding":{"x":{"datum":-5,"type":"quantitative","scale":{"domain":[-6,6],"nice":false,"zero":false},"axis":null},"y":{"datum":4.65,"type":"quantitative","scale":{"domain":[-6,6],"nice":false,"zero":false},"axis":null}}},
{"data":{"values":[{}]},"mark":{"type":"text","text":"RMSD","align":"right","fontSize":19.4,"fontStyle":"italic"},"encoding":{"x":{"datum":0.45,"type":"quantitative","scale":{"domain":[-6,6],"nice":false,"zero":false},"axis":null},"y":{"datum":-5.49,"type":"quantitative","scale":{"domain":[-6,6],"nice":false,"zero":false},"axis":null}}},
{"data":{"values":[{}]},"mark":{"type":"text","text":"=0.30 kcal/mol","align":"left","fontSize":19.4},"encoding":{"x":{"datum":0.45,"type":"quantitative","scale":{"domain":[-6,6],"nice":false,"zero":false},"axis":null},"y":{"datum":-5.49,"type":"quantitative","scale":{"domain":[-6,6],"nice":false,"zero":false},"axis":null}}},
{"data":{"values":[{}]},"mark":{"type":"rect","fillOpacity":0,"stroke":"#000","strokeWidth":2,"clip":true},"encoding":{"x":{"datum":-6,"type":"quantitative","scale":{"domain":[-6,6],"nice":false,"zero":false},"axis":null},"x2":{"datum":6},"y":{"datum":-6,"type":"quantitative","scale":{"domain":[-6,6],"nice":false,"zero":false},"axis":null},"y2":{"datum":6}}}
]},
{"width":348,"height":355,"layer":[
{"data":{"values":[{}]},"mark":{"type":"rule","color":"#808080","strokeWidth":1.5,"clip":true},"encoding":{"x":{"datum":-6,"type":"quantitative","scale":{"domain":[-6,6],"nice":false,"zero":false},"axis":null},"y":{"datum":-6,"type":"quantitative","scale":{"domain":[-6,6],"nice":false,"zero":false},"axis":null},"x2":{"datum":6},"y2":{"datum":6}}},
{"data":{"name":"pts"},"mark":{"type":"circle","size":10,"color":"#1f77b4","opacity":1,"clip":true},"encoding":{"x":{"field":"x","type":"quantitative","scale":{"domain":[-6,6],"nice":false,"zero":false},"axis":null},"y":{"field":"f","type":"quantitative","scale":{"domain":[-6,6],"nice":false,"zero":false},"axis":null}}},
{"data":{"values":[{}]},"mark":{"type":"text","text":"AMOEBA14","align":"left","fontSize":28},"encoding":{"x":{"datum":-5,"type":"quantitative","scale":{"domain":[-6,6],"nice":false,"zero":false},"axis":null},"y":{"datum":4.65,"type":"quantitative","scale":{"domain":[-6,6],"nice":false,"zero":false},"axis":null}}},
{"data":{"values":[{}]},"mark":{"type":"text","text":"RMSD","align":"right","fontSize":19.4,"fontStyle":"italic"},"encoding":{"x":{"datum":0.45,"type":"quantitative","scale":{"domain":[-6,6],"nice":false,"zero":false},"axis":null},"y":{"datum":-5.49,"type":"quantitative","scale":{"domain":[-6,6],"nice":false,"zero":false},"axis":null}}},
{"data":{"values":[{}]},"mark":{"type":"text","text":"=0.25 kcal/mol","align":"left","fontSize":19.4},"encoding":{"x":{"datum":0.45,"type":"quantitative","scale":{"domain":[-6,6],"nice":false,"zero":false},"axis":null},"y":{"datum":-5.49,"type":"quantitative","scale":{"domain":[-6,6],"nice":false,"zero":false},"axis":null}}},
{"data":{"values":[{}]},"mark":{"type":"rect","fillOpacity":0,"stroke":"#000","strokeWidth":2,"clip":true},"encoding":{"x":{"datum":-6,"type":"quantitative","scale":{"domain":[-6,6],"nice":false,"zero":false},"axis":null},"x2":{"datum":6},"y":{"datum":-6,"type":"quantitative","scale":{"domain":[-6,6],"nice":false,"zero":false},"axis":null},"y2":{"datum":6}}}
]}
]},
{"spacing":0,"hconcat":[
{"width":348,"height":355,"layer":[
{"data":{"values":[{}]},"mark":{"type":"rule","color":"#808080","strokeWidth":1.5,"clip":true},"encoding":{"x":{"datum":-6,"type":"quantitative","scale":{"domain":[-6,6],"nice":false,"zero":false},"axis":null},"y":{"datum":-6,"type":"quantitative","scale":{"domain":[-6,6],"nice":false,"zero":false},"axis":{"values":[-4,-2,0,2,4],"title":null}},"x2":{"datum":6},"y2":{"datum":6}}},
{"data":{"name":"pts"},"mark":{"type":"circle","size":10,"color":"#1f77b4","opacity":1,"clip":true},"encoding":{"x":{"field":"x","type":"quantitative","scale":{"domain":[-6,6],"nice":false,"zero":false},"axis":null},"y":{"field":"g","type":"quantitative","scale":{"domain":[-6,6],"nice":false,"zero":false},"axis":{"values":[-4,-2,0,2,4],"title":null}}}},
{"data":{"values":[{}]},"mark":{"type":"text","text":"AMOEABA+","align":"left","fontSize":28},"encoding":{"x":{"datum":-5,"type":"quantitative","scale":{"domain":[-6,6],"nice":false,"zero":false},"axis":null},"y":{"datum":4.65,"type":"quantitative","scale":{"domain":[-6,6],"nice":false,"zero":false},"axis":{"values":[-4,-2,0,2,4],"title":null}}}},
{"data":{"values":[{}]},"mark":{"type":"text","text":"RMSD","align":"right","fontSize":19.4,"fontStyle":"italic"},"encoding":{"x":{"datum":0.45,"type":"quantitative","scale":{"domain":[-6,6],"nice":false,"zero":false},"axis":null},"y":{"datum":-5.49,"type":"quantitative","scale":{"domain":[-6,6],"nice":false,"zero":false},"axis":{"values":[-4,-2,0,2,4],"title":null}}}},
{"data":{"values":[{}]},"mark":{"type":"text","text":"=0.15 kcal/mol","align":"left","fontSize":19.4},"encoding":{"x":{"datum":0.45,"type":"quantitative","scale":{"domain":[-6,6],"nice":false,"zero":false},"axis":null},"y":{"datum":-5.49,"type":"quantitative","scale":{"domain":[-6,6],"nice":false,"zero":false},"axis":{"values":[-4,-2,0,2,4],"title":null}}}},
{"data":{"values":[{}]},"mark":{"type":"text","text":"E","align":"left","fontSize":28,"fontStyle":"italic","angle":270,"dx":-96},"encoding":{"x":{"datum":-7.66,"type":"quantitative","scale":{"domain":[-6,6],"nice":false,"zero":false},"axis":null},"y":{"datum":0,"type":"quantitative","scale":{"domain":[-6,6],"nice":false,"zero":false},"axis":{"values":[-4,-2,0,2,4],"title":null}}}},
{"data":{"values":[{}]},"mark":{"type":"text","text":"3B","align":"left","fontSize":19.6,"fontStyle":"italic","angle":270,"dx":-77,"dy":-12},"encoding":{"x":{"datum":-7.66,"type":"quantitative","scale":{"domain":[-6,6],"nice":false,"zero":false},"axis":null},"y":{"datum":0,"type":"quantitative","scale":{"domain":[-6,6],"nice":false,"zero":false},"axis":{"values":[-4,-2,0,2,4],"title":null}}}},
{"data":{"values":[{}]},"mark":{"type":"text","text":"(kcal/mol)","align":"left","fontSize":28,"angle":270,"dx":-43},"encoding":{"x":{"datum":-7.66,"type":"quantitative","scale":{"domain":[-6,6],"nice":false,"zero":false},"axis":null},"y":{"datum":0,"type":"quantitative","scale":{"domain":[-6,6],"nice":false,"zero":false},"axis":{"values":[-4,-2,0,2,4],"title":null}}}},
{"data":{"values":[{}]},"mark":{"type":"rect","fillOpacity":0,"stroke":"#000","strokeWidth":2,"clip":true},"encoding":{"x":{"datum":-6,"type":"quantitative","scale":{"domain":[-6,6],"nice":false,"zero":false},"axis":null},"x2":{"datum":6},"y":{"datum":-6,"type":"quantitative","scale":{"domain":[-6,6],"nice":false,"zero":false},"axis":{"values":[-4,-2,0,2,4],"title":null}},"y2":{"datum":6}}}
]},
{"width":348,"height":355,"layer":[
{"data":{"values":[{}]},"mark":{"type":"rule","color":"#808080","strokeWidth":1.5,"clip":true},"encoding":{"x":{"datum":-6,"type":"quantitative","scale":{"domain":[-6,6],"nice":false,"zero":false},"axis":null},"y":{"datum":-6,"type":"quantitative","scale":{"domain":[-6,6],"nice":false,"zero":false},"axis":null},"x2":{"datum":6},"y2":{"datum":6}}},
{"data":{"name":"pts"},"mark":{"type":"circle","size":10,"color":"#1f77b4","opacity":1,"clip":true},"encoding":{"x":{"field":"x","type":"quantitative","scale":{"domain":[-6,6],"nice":false,"zero":false},"axis":null},"y":{"field":"h","type":"quantitative","scale":{"domain":[-6,6],"nice":false,"zero":false},"axis":null}}},
{"data":{"values":[{}]},"mark":{"type":"text","text":"AMOEBA+CF","align":"left","fontSize":28},"encoding":{"x":{"datum":-5,"type":"quantitative","scale":{"domain":[-6,6],"nice":false,"zero":false},"axis":null},"y":{"datum":4.65,"type":"quantitative","scale":{"domain":[-6,6],"nice":false,"zero":false},"axis":null}}},
{"data":{"values":[{}]},"mark":{"type":"text","text":"RMSD","align":"right","fontSize":19.4,"fontStyle":"italic"},"encoding":{"x":{"datum":0.45,"type":"quantitative","scale":{"domain":[-6,6],"nice":false,"zero":false},"axis":null},"y":{"datum":-5.49,"type":"quantitative","scale":{"domain":[-6,6],"nice":false,"zero":false},"axis":null}}},
{"data":{"values":[{}]},"mark":{"type":"text","text":"=0.13 kcal/mol","align":"left","fontSize":19.4},"encoding":{"x":{"datum":0.45,"type":"quantitative","scale":{"domain":[-6,6],"nice":false,"zero":false},"axis":null},"y":{"datum":-5.49,"type":"quantitative","scale":{"domain":[-6,6],"nice":false,"zero":false},"axis":null}}},
{"data":{"values":[{}]},"mark":{"type":"rect","fillOpacity":0,"stroke":"#000","strokeWidth":2,"clip":true},"encoding":{"x":{"datum":-6,"type":"quantitative","scale":{"domain":[-6,6],"nice":false,"zero":false},"axis":null},"x2":{"datum":6},"y":{"datum":-6,"type":"quantitative","scale":{"domain":[-6,6],"nice":false,"zero":false},"axis":null},"y2":{"datum":6}}}
]},
{"width":348,"height":355,"layer":[
{"data":{"values":[{}]},"mark":{"type":"rule","color":"#808080","strokeWidth":1.5,"clip":true},"encoding":{"x":{"datum":-6,"type":"quantitative","scale":{"domain":[-6,6],"nice":false,"zero":false},"axis":null},"y":{"datum":-6,"type":"quantitative","scale":{"domain":[-6,6],"nice":false,"zero":false},"axis":null},"x2":{"datum":6},"y2":{"datum":6}}},
{"data":{"name":"pts"},"mark":{"type":"circle","size":10,"color":"#1f77b4","opacity":1,"clip":true},"encoding":{"x":{"field":"x","type":"quantitative","scale":{"domain":[-6,6],"nice":false,"zero":false},"axis":null},"y":{"field":"i","type":"quantitative","scale":{"domain":[-6,6],"nice":false,"zero":false},"axis":null}}},
{"data":{"values":[{}]},"mark":{"type":"text","text":"MB-UCB","align":"left","fontSize":28},"encoding":{"x":{"datum":-5,"type":"quantitative","scale":{"domain":[-6,6],"nice":false,"zero":false},"axis":null},"y":{"datum":4.65,"type":"quantitative","scale":{"domain":[-6,6],"nice":false,"zero":false},"axis":null}}},
{"data":{"values":[{}]},"mark":{"type":"text","text":"RMSD","align":"right","fontSize":19.4,"fontStyle":"italic"},"encoding":{"x":{"datum":0.45,"type":"quantitative","scale":{"domain":[-6,6],"nice":false,"zero":false},"axis":null},"y":{"datum":-5.49,"type":"quantitative","scale":{"domain":[-6,6],"nice":false,"zero":false},"axis":null}}},
{"data":{"values":[{}]},"mark":{"type":"text","text":"=0.17 kcal/mol","align":"left","fontSize":19.4},"encoding":{"x":{"datum":0.45,"type":"quantitative","scale":{"domain":[-6,6],"nice":false,"zero":false},"axis":null},"y":{"datum":-5.49,"type":"quantitative","scale":{"domain":[-6,6],"nice":false,"zero":false},"axis":null}}},
{"data":{"values":[{}]},"mark":{"type":"rect","fillOpacity":0,"stroke":"#000","strokeWidth":2,"clip":true},"encoding":{"x":{"datum":-6,"type":"quantitative","scale":{"domain":[-6,6],"nice":false,"zero":false},"axis":null},"x2":{"datum":6},"y":{"datum":-6,"type":"quantitative","scale":{"domain":[-6,6],"nice":false,"zero":false},"axis":null},"y2":{"datum":6}}}
]}
]},
{"spacing":0,"hconcat":[
{"width":348,"height":355,"layer":[
{"data":{"values":[{}]},"mark":{"type":"rule","color":"#808080","strokeWidth":1.5,"clip":true},"encoding":{"x":{"datum":-6,"type":"quantitative","scale":{"domain":[-6,6],"nice":false,"zero":false},"axis":{"values":[-4,-2,0,2,4],"title":null}},"y":{"datum":-6,"type":"quantitative","scale":{"domain":[-6,6],"nice":false,"zero":false},"axis":{"values":[-4,-2,0,2,4],"title":null}},"x2":{"datum":6},"y2":{"datum":6}}},
{"data":{"name":"pts"},"mark":{"type":"circle","size":10,"color":"#1f77b4","opacity":1,"clip":true},"encoding":{"x":{"field":"x","type":"quantitative","scale":{"domain":[-6,6],"nice":false,"zero":false},"axis":{"values":[-4,-2,0,2,4],"title":null}},"y":{"field":"j","type":"quantitative","scale":{"domain":[-6,6],"nice":false,"zero":false},"axis":{"values":[-4,-2,0,2,4],"title":null}}}},
{"data":{"values":[{}]},"mark":{"type":"text","text":"fq-MB-pol","align":"left","fontSize":28},"encoding":{"x":{"datum":-5,"type":"quantitative","scale":{"domain":[-6,6],"nice":false,"zero":false},"axis":{"values":[-4,-2,0,2,4],"title":null}},"y":{"datum":4.65,"type":"quantitative","scale":{"domain":[-6,6],"nice":false,"zero":false},"axis":{"values":[-4,-2,0,2,4],"title":null}}}},
{"data":{"values":[{}]},"mark":{"type":"text","text":"RMSD","align":"right","fontSize":19.4,"fontStyle":"italic"},"encoding":{"x":{"datum":0.45,"type":"quantitative","scale":{"domain":[-6,6],"nice":false,"zero":false},"axis":{"values":[-4,-2,0,2,4],"title":null}},"y":{"datum":-5.49,"type":"quantitative","scale":{"domain":[-6,6],"nice":false,"zero":false},"axis":{"values":[-4,-2,0,2,4],"title":null}}}},
{"data":{"values":[{}]},"mark":{"type":"text","text":"=0.04 kcal/mol","align":"left","fontSize":19.4},"encoding":{"x":{"datum":0.45,"type":"quantitative","scale":{"domain":[-6,6],"nice":false,"zero":false},"axis":{"values":[-4,-2,0,2,4],"title":null}},"y":{"datum":-5.49,"type":"quantitative","scale":{"domain":[-6,6],"nice":false,"zero":false},"axis":{"values":[-4,-2,0,2,4],"title":null}}}},
{"data":{"values":[{}]},"mark":{"type":"text","text":"E","align":"left","fontSize":28,"fontStyle":"italic","angle":270,"dx":-96},"encoding":{"x":{"datum":-7.66,"type":"quantitative","scale":{"domain":[-6,6],"nice":false,"zero":false},"axis":{"values":[-4,-2,0,2,4],"title":null}},"y":{"datum":0,"type":"quantitative","scale":{"domain":[-6,6],"nice":false,"zero":false},"axis":{"values":[-4,-2,0,2,4],"title":null}}}},
{"data":{"values":[{}]},"mark":{"type":"text","text":"3B","align":"left","fontSize":19.6,"fontStyle":"italic","angle":270,"dx":-77,"dy":-12},"encoding":{"x":{"datum":-7.66,"type":"quantitative","scale":{"domain":[-6,6],"nice":false,"zero":false},"axis":{"values":[-4,-2,0,2,4],"title":null}},"y":{"datum":0,"type":"quantitative","scale":{"domain":[-6,6],"nice":false,"zero":false},"axis":{"values":[-4,-2,0,2,4],"title":null}}}},
{"data":{"values":[{}]},"mark":{"type":"text","text":"(kcal/mol)","align":"left","fontSize":28,"angle":270,"dx":-43},"encoding":{"x":{"datum":-7.66,"type":"quantitative","scale":{"domain":[-6,6],"nice":false,"zero":false},"axis":{"values":[-4,-2,0,2,4],"title":null}},"y":{"datum":0,"type":"quantitative","scale":{"domain":[-6,6],"nice":false,"zero":false},"axis":{"values":[-4,-2,0,2,4],"title":null}}}},
{"data":{"values":[{}]},"mark":{"type":"text","text":"E","align":"left","fontSize":28,"fontStyle":"italic","dx":-129},"encoding":{"x":{"datum":0,"type":"quantitative","scale":{"domain":[-6,6],"nice":false,"zero":false},"axis":{"values":[-4,-2,0,2,4],"title":null}},"y":{"datum":-7.93,"type":"quantitative","scale":{"domain":[-6,6],"nice":false,"zero":false},"axis":{"values":[-4,-2,0,2,4],"title":null}}}},
{"data":{"values":[{}]},"mark":{"type":"text","text":"3B","align":"left","fontSize":19.6,"fontStyle":"italic","dx":-110,"dy":-12},"encoding":{"x":{"datum":0,"type":"quantitative","scale":{"domain":[-6,6],"nice":false,"zero":false},"axis":{"values":[-4,-2,0,2,4],"title":null}},"y":{"datum":-7.93,"type":"quantitative","scale":{"domain":[-6,6],"nice":false,"zero":false},"axis":{"values":[-4,-2,0,2,4],"title":null}}}},
{"data":{"values":[{}]},"mark":{"type":"text","text":"CCSD(T)","align":"left","fontSize":19.6,"fontStyle":"italic","dx":-109,"dy":7},"encoding":{"x":{"datum":0,"type":"quantitative","scale":{"domain":[-6,6],"nice":false,"zero":false},"axis":{"values":[-4,-2,0,2,4],"title":null}},"y":{"datum":-7.93,"type":"quantitative","scale":{"domain":[-6,6],"nice":false,"zero":false},"axis":{"values":[-4,-2,0,2,4],"title":null}}}},
{"data":{"values":[{}]},"mark":{"type":"text","text":"(kcal/mol)","align":"left","fontSize":28,"dx":-15},"encoding":{"x":{"datum":0,"type":"quantitative","scale":{"domain":[-6,6],"nice":false,"zero":false},"axis":{"values":[-4,-2,0,2,4],"title":null}},"y":{"datum":-7.93,"type":"quantitative","scale":{"domain":[-6,6],"nice":false,"zero":false},"axis":{"values":[-4,-2,0,2,4],"title":null}}}},
{"data":{"values":[{}]},"mark":{"type":"rect","fillOpacity":0,"stroke":"#000","strokeWidth":2,"clip":true},"encoding":{"x":{"datum":-6,"type":"quantitative","scale":{"domain":[-6,6],"nice":false,"zero":false},"axis":{"values":[-4,-2,0,2,4],"title":null}},"x2":{"datum":6},"y":{"datum":-6,"type":"quantitative","scale":{"domain":[-6,6],"nice":false,"zero":false},"axis":{"values":[-4,-2,0,2,4],"title":null}},"y2":{"datum":6}}}
]},
{"width":348,"height":355,"layer":[
{"data":{"values":[{}]},"mark":{"type":"rule","color":"#808080","strokeWidth":1.5,"clip":true},"encoding":{"x":{"datum":-6,"type":"quantitative","scale":{"domain":[-6,6],"nice":false,"zero":false},"axis":{"values":[-4,-2,0,2,4],"title":null}},"y":{"datum":-6,"type":"quantitative","scale":{"domain":[-6,6],"nice":false,"zero":false},"axis":null},"x2":{"datum":6},"y2":{"datum":6}}},
{"data":{"name":"pts"},"mark":{"type":"circle","size":10,"color":"#1f77b4","opacity":1,"clip":true},"encoding":{"x":{"field":"x","type":"quantitative","scale":{"domain":[-6,6],"nice":false,"zero":false},"axis":{"values":[-4,-2,0,2,4],"title":null}},"y":{"field":"k","type":"quantitative","scale":{"domain":[-6,6],"nice":false,"zero":false},"axis":null}}},
{"data":{"values":[{}]},"mark":{"type":"text","text":"MB-pol","align":"left","fontSize":28},"encoding":{"x":{"datum":-5,"type":"quantitative","scale":{"domain":[-6,6],"nice":false,"zero":false},"axis":{"values":[-4,-2,0,2,4],"title":null}},"y":{"datum":4.65,"type":"quantitative","scale":{"domain":[-6,6],"nice":false,"zero":false},"axis":null}}},
{"data":{"values":[{}]},"mark":{"type":"text","text":"RMSD","align":"right","fontSize":19.4,"fontStyle":"italic"},"encoding":{"x":{"datum":0.45,"type":"quantitative","scale":{"domain":[-6,6],"nice":false,"zero":false},"axis":{"values":[-4,-2,0,2,4],"title":null}},"y":{"datum":-5.49,"type":"quantitative","scale":{"domain":[-6,6],"nice":false,"zero":false},"axis":null}}},
{"data":{"values":[{}]},"mark":{"type":"text","text":"=0.04 kcal/mol","align":"left","fontSize":19.4},"encoding":{"x":{"datum":0.45,"type":"quantitative","scale":{"domain":[-6,6],"nice":false,"zero":false},"axis":{"values":[-4,-2,0,2,4],"title":null}},"y":{"datum":-5.49,"type":"quantitative","scale":{"domain":[-6,6],"nice":false,"zero":false},"axis":null}}},
{"data":{"values":[{}]},"mark":{"type":"text","text":"E","align":"left","fontSize":28,"fontStyle":"italic","dx":-129},"encoding":{"x":{"datum":0,"type":"quantitative","scale":{"domain":[-6,6],"nice":false,"zero":false},"axis":{"values":[-4,-2,0,2,4],"title":null}},"y":{"datum":-7.93,"type":"quantitative","scale":{"domain":[-6,6],"nice":false,"zero":false},"axis":null}}},
{"data":{"values":[{}]},"mark":{"type":"text","text":"3B","align":"left","fontSize":19.6,"fontStyle":"italic","dx":-110,"dy":-12},"encoding":{"x":{"datum":0,"type":"quantitative","scale":{"domain":[-6,6],"nice":false,"zero":false},"axis":{"values":[-4,-2,0,2,4],"title":null}},"y":{"datum":-7.93,"type":"quantitative","scale":{"domain":[-6,6],"nice":false,"zero":false},"axis":null}}},
{"data":{"values":[{}]},"mark":{"type":"text","text":"CCSD(T)","align":"left","fontSize":19.6,"fontStyle":"italic","dx":-109,"dy":7},"encoding":{"x":{"datum":0,"type":"quantitative","scale":{"domain":[-6,6],"nice":false,"zero":false},"axis":{"values":[-4,-2,0,2,4],"title":null}},"y":{"datum":-7.93,"type":"quantitative","scale":{"domain":[-6,6],"nice":false,"zero":false},"axis":null}}},
{"data":{"values":[{}]},"mark":{"type":"text","text":"(kcal/mol)","align":"left","fontSize":28,"dx":-15},"encoding":{"x":{"datum":0,"type":"quantitative","scale":{"domain":[-6,6],"nice":false,"zero":false},"axis":{"values":[-4,-2,0,2,4],"title":null}},"y":{"datum":-7.93,"type":"quantitative","scale":{"domain":[-6,6],"nice":false,"zero":false},"axis":null}}},
{"data":{"values":[{}]},"mark":{"type":"rect","fillOpacity":0,"stroke":"#000","strokeWidth":2,"clip":true},"encoding":{"x":{"datum":-6,"type":"quantitative","scale":{"domain":[-6,6],"nice":false,"zero":false},"axis":{"values":[-4,-2,0,2,4],"title":null}},"x2":{"datum":6},"y":{"datum":-6,"type":"quantitative","scale":{"domain":[-6,6],"nice":false,"zero":false},"axis":null},"y2":{"datum":6}}}
]},
{"width":348,"height":355,"layer":[
{"data":{"name":"hist"},"mark":{"type":"rect","color":"#008000","stroke":"#008000","strokeWidth":0.5},"encoding":{"x":{"field":"x0","type":"quantitative","scale":{"domain":[-6,6],"nice":false,"zero":false},"axis":{"values":[-4,-2,0,2,4],"title":null}},"x2":{"field":"x1"},"y":{"field":"p","type":"quantitative","scale":{"domain":[0,1.845],"nice":false},"axis":{"orient":"right","values":[0,0.25,0.5,0.75,1,1.25,1.5,1.75],"format":".2f","title":null,"domain":true,"domainColor":"#008000","domainWidth":3,"tickColor":"#008000","labelPadding":3,"zindex":1}},"y2":{"datum":0}}},
{"data":{"values":[{}]},"mark":{"type":"text","text":"E","align":"left","fontSize":28,"fontStyle":"italic","dx":-129},"encoding":{"x":{"datum":0,"type":"quantitative","scale":{"domain":[-6,6],"nice":false,"zero":false},"axis":{"values":[-4,-2,0,2,4],"title":null}},"y":{"datum":-0.296,"type":"quantitative","scale":{"domain":[0,1.845],"nice":false},"axis":{"orient":"right","values":[0,0.25,0.5,0.75,1,1.25,1.5,1.75],"format":".2f","title":null,"domain":true,"domainColor":"#008000","domainWidth":3,"tickColor":"#008000","labelPadding":3,"zindex":1}}}},
{"data":{"values":[{}]},"mark":{"type":"text","text":"3B","align":"left","fontSize":19.6,"fontStyle":"italic","dx":-110,"dy":-12},"encoding":{"x":{"datum":0,"type":"quantitative","scale":{"domain":[-6,6],"nice":false,"zero":false},"axis":{"values":[-4,-2,0,2,4],"title":null}},"y":{"datum":-0.296,"type":"quantitative","scale":{"domain":[0,1.845],"nice":false},"axis":{"orient":"right","values":[0,0.25,0.5,0.75,1,1.25,1.5,1.75],"format":".2f","title":null,"domain":true,"domainColor":"#008000","domainWidth":3,"tickColor":"#008000","labelPadding":3,"zindex":1}}}},
{"data":{"values":[{}]},"mark":{"type":"text","text":"CCSD(T)","align":"left","fontSize":19.6,"fontStyle":"italic","dx":-109,"dy":7},"encoding":{"x":{"datum":0,"type":"quantitative","scale":{"domain":[-6,6],"nice":false,"zero":false},"axis":{"values":[-4,-2,0,2,4],"title":null}},"y":{"datum":-0.296,"type":"quantitative","scale":{"domain":[0,1.845],"nice":false},"axis":{"orient":"right","values":[0,0.25,0.5,0.75,1,1.25,1.5,1.75],"format":".2f","title":null,"domain":true,"domainColor":"#008000","domainWidth":3,"tickColor":"#008000","labelPadding":3,"zindex":1}}}},
{"data":{"values":[{}]},"mark":{"type":"text","text":"(kcal/mol)","align":"left","fontSize":28,"dx":-15},"encoding":{"x":{"datum":0,"type":"quantitative","scale":{"domain":[-6,6],"nice":false,"zero":false},"axis":{"values":[-4,-2,0,2,4],"title":null}},"y":{"datum":-0.296,"type":"quantitative","scale":{"domain":[0,1.845],"nice":false},"axis":{"orient":"right","values":[0,0.25,0.5,0.75,1,1.25,1.5,1.75],"format":".2f","title":null,"domain":true,"domainColor":"#008000","domainWidth":3,"tickColor":"#008000","labelPadding":3,"zindex":1}}}},
{"data":{"values":[{}]},"mark":{"type":"text","text":"P","align":"left","fontSize":28,"fontStyle":"italic","angle":270,"dx":0},"encoding":{"x":{"datum":8.72,"type":"quantitative","scale":{"domain":[-6,6],"nice":false,"zero":false},"axis":{"values":[-4,-2,0,2,4],"title":null}},"y":{"datum":0.546,"type":"quantitative","scale":{"domain":[0,1.845],"nice":false},"axis":{"orient":"right","values":[0,0.25,0.5,0.75,1,1.25,1.5,1.75],"format":".2f","title":null,"domain":true,"domainColor":"#008000","domainWidth":3,"tickColor":"#008000","labelPadding":3,"zindex":1}}}},
{"data":{"values":[{}]},"mark":{"type":"text","text":"(","align":"left","fontSize":28,"angle":270,"dx":17},"encoding":{"x":{"datum":8.72,"type":"quantitative","scale":{"domain":[-6,6],"nice":false,"zero":false},"axis":{"values":[-4,-2,0,2,4],"title":null}},"y":{"datum":0.546,"type":"quantitative","scale":{"domain":[0,1.845],"nice":false},"axis":{"orient":"right","values":[0,0.25,0.5,0.75,1,1.25,1.5,1.75],"format":".2f","title":null,"domain":true,"domainColor":"#008000","domainWidth":3,"tickColor":"#008000","labelPadding":3,"zindex":1}}}},
{"data":{"values":[{}]},"mark":{"type":"text","text":"E","align":"left","fontSize":28,"fontStyle":"italic","angle":270,"dx":28},"encoding":{"x":{"datum":8.72,"type":"quantitative","scale":{"domain":[-6,6],"nice":false,"zero":false},"axis":{"values":[-4,-2,0,2,4],"title":null}},"y":{"datum":0.546,"type":"quantitative","scale":{"domain":[0,1.845],"nice":false},"axis":{"orient":"right","values":[0,0.25,0.5,0.75,1,1.25,1.5,1.75],"format":".2f","title":null,"domain":true,"domainColor":"#008000","domainWidth":3,"tickColor":"#008000","labelPadding":3,"zindex":1}}}},
{"data":{"values":[{}]},"mark":{"type":"text","text":"3B","align":"left","fontSize":19.6,"fontStyle":"italic","angle":270,"dx":46,"dy":-12},"encoding":{"x":{"datum":8.72,"type":"quantitative","scale":{"domain":[-6,6],"nice":false,"zero":false},"axis":{"values":[-4,-2,0,2,4],"title":null}},"y":{"datum":0.546,"type":"quantitative","scale":{"domain":[0,1.845],"nice":false},"axis":{"orient":"right","values":[0,0.25,0.5,0.75,1,1.25,1.5,1.75],"format":".2f","title":null,"domain":true,"domainColor":"#008000","domainWidth":3,"tickColor":"#008000","labelPadding":3,"zindex":1}}}},
{"data":{"values":[{}]},"mark":{"type":"text","text":"CCSD(T)","align":"left","fontSize":19.6,"fontStyle":"italic","angle":270,"dx":46,"dy":7},"encoding":{"x":{"datum":8.72,"type":"quantitative","scale":{"domain":[-6,6],"nice":false,"zero":false},"axis":{"values":[-4,-2,0,2,4],"title":null}},"y":{"datum":0.546,"type":"quantitative","scale":{"domain":[0,1.845],"nice":false},"axis":{"orient":"right","values":[0,0.25,0.5,0.75,1,1.25,1.5,1.75],"format":".2f","title":null,"domain":true,"domainColor":"#008000","domainWidth":3,"tickColor":"#008000","labelPadding":3,"zindex":1}}}},
{"data":{"values":[{}]},"mark":{"type":"text","text":")","align":"left","fontSize":28,"angle":270,"dx":129},"encoding":{"x":{"datum":8.72,"type":"quantitative","scale":{"domain":[-6,6],"nice":false,"zero":false},"axis":{"values":[-4,-2,0,2,4],"title":null}},"y":{"datum":0.546,"type":"quantitative","scale":{"domain":[0,1.845],"nice":false},"axis":{"orient":"right","values":[0,0.25,0.5,0.75,1,1.25,1.5,1.75],"format":".2f","title":null,"domain":true,"domainColor":"#008000","domainWidth":3,"tickColor":"#008000","labelPadding":3,"zindex":1}}}},
{"data":{"values":[{}]},"mark":{"type":"rect","fillOpacity":0,"stroke":"#000","strokeWidth":2,"clip":true},"encoding":{"x":{"datum":-6,"type":"quantitative","scale":{"domain":[-6,6],"nice":false,"zero":false},"axis":{"values":[-4,-2,0,2,4],"title":null}},"x2":{"datum":6},"y":{"datum":0,"type":"quantitative","scale":{"domain":[0,1.845],"nice":false},"axis":{"orient":"right","values":[0,0.25,0.5,0.75,1,1.25,1.5,1.75],"format":".2f","title":null,"domain":true,"domainColor":"#008000","domainWidth":3,"tickColor":"#008000","labelPadding":3,"zindex":1}},"y2":{"datum":1.845}}}
]}
]}
]
}
